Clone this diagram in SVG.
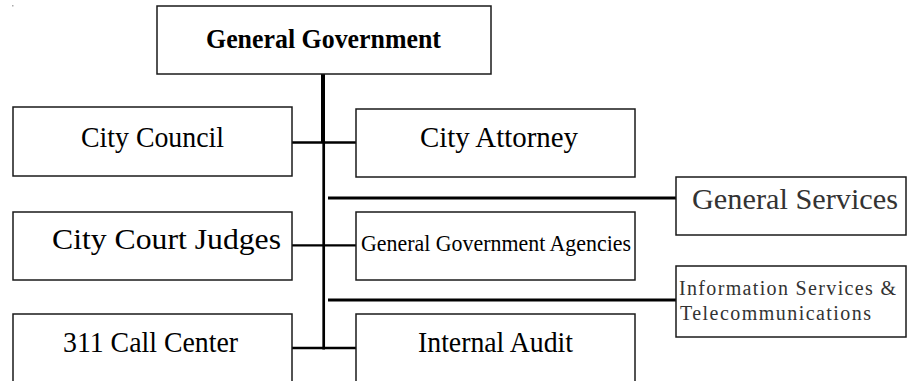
<svg xmlns="http://www.w3.org/2000/svg" width="910" height="381" viewBox="0 0 910 381">
<style>
.box{fill:#fff;stroke:#1a1a1a;stroke-width:1.5}
.t{font-family:"Liberation Serif","Times New Roman",serif;fill:#000}
.g{fill:#333}
.c{stroke:#000;fill:none}
</style>
<rect x="0" y="0" width="910" height="381" fill="#fff"/>
<rect x="12" y="5" width="1.5" height="1.5" fill="#aaa"/>
<g id="connectors">
<line class="c" x1="323" y1="74" x2="323" y2="143" stroke-width="4"/>
<line class="c" x1="323.7" y1="141" x2="323.7" y2="349.5" stroke-width="2.7"/>
<line class="c" x1="289" y1="142.5" x2="356" y2="142.5" stroke-width="2.6"/>
<line class="c" x1="292" y1="245.3" x2="356" y2="245.3" stroke-width="2.2"/>
<line class="c" x1="292" y1="348" x2="356" y2="348" stroke-width="2.6"/>
<line class="c" x1="328" y1="198" x2="676" y2="198" stroke-width="3" stroke="#222"/>
<line class="c" x1="328" y1="300" x2="676" y2="300" stroke-width="3" stroke="#222"/>
</g>
<g id="general-government">
<rect class="box" x="157" y="6" width="334" height="68"/>
<text class="t" x="206" y="48" font-size="27" font-weight="bold" textLength="235" lengthAdjust="spacingAndGlyphs">General Government</text>
</g>
<g id="city-council">
<rect class="box" x="13" y="107" width="279" height="69"/>
<text class="t" x="81" y="147" font-size="30" textLength="143" lengthAdjust="spacingAndGlyphs">City Council</text>
</g>
<g id="city-court-judges">
<rect class="box" x="13" y="212" width="279" height="68"/>
<text class="t" x="52" y="249" font-size="30" textLength="229" lengthAdjust="spacingAndGlyphs">City Court Judges</text>
</g>
<g id="call-center">
<rect class="box" x="13" y="314" width="279" height="80"/>
<text class="t" x="63" y="352" font-size="30" textLength="175" lengthAdjust="spacingAndGlyphs">311 Call Center</text>
</g>
<g id="city-attorney">
<rect class="box" x="356" y="109" width="279" height="68"/>
<text class="t" x="420" y="146.5" font-size="30" textLength="158" lengthAdjust="spacingAndGlyphs">City Attorney</text>
</g>
<g id="general-government-agencies">
<rect class="box" x="356" y="212" width="279" height="68"/>
<text class="t" x="361" y="251" font-size="23" textLength="270" lengthAdjust="spacingAndGlyphs">General Government Agencies</text>
</g>
<g id="internal-audit">
<rect class="box" x="356" y="314" width="279" height="80"/>
<text class="t" x="418" y="352" font-size="30" textLength="155" lengthAdjust="spacingAndGlyphs">Internal Audit</text>
</g>
<g id="general-services">
<rect class="box" x="676" y="177" width="230" height="58" stroke="#333"/>
<text class="t g" x="692" y="208.5" font-size="30" textLength="206" lengthAdjust="spacingAndGlyphs">General Services</text>
</g>
<g id="information-services">
<rect class="box" x="676" y="266" width="230" height="71" stroke="#333"/>
<text class="t g" x="679" y="295" font-size="20" textLength="217" lengthAdjust="spacing">Information Services &amp;</text>
<text class="t g" x="680" y="320" font-size="20" textLength="191" lengthAdjust="spacing">Telecommunications</text>
</g>
</svg>
